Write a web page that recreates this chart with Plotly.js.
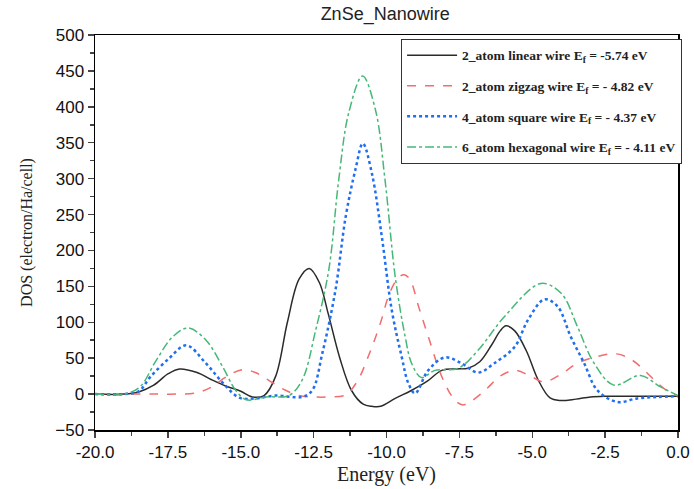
<!DOCTYPE html>
<html>
<head>
<meta charset="utf-8">
<script src="https://cdn.plot.ly/plotly-3.0.1.min.js"></script>
<style>html,body{margin:0;padding:0;background:#fff;}#chart{width:694px;height:489px;}</style>
</head>
<body>
<div id="chart"></div>
<script>
// Energy (eV) and DOS values
const linearX = [-20,-19,-18.5,-18,-17.5,-17.1,-16.5,-16,-15.5,-15,-14.6,-14.2,-13.8,-13.4,-13,-12.65,-12.3,-12,-11.6,-11.2,-10.8,-10.5,-10.2,-9.7,-9.15,-8.6,-8.1,-7.6,-7.2,-6.8,-6.4,-6.1,-5.9,-5.6,-5.2,-4.8,-4.4,-4.05,-3.5,-3,-2.5,-2,-1,0];
const linearY = [0,0,3,12,28,35,30,20,11,4,-4,-2,25,100,160,175,155,112,50,5,-14,-17,-17,-6,5,18,33,35,36,45,68,88,95,88,60,20,-5,-9,-7,-4,-3,-3,-3,-3];

const zigzagX = [-20,-18,-17.2,-16.5,-16,-15.5,-14.95,-14.5,-14,-13.5,-13,-12.5,-12,-11.4,-11,-10.6,-10.2,-9.9,-9.6,-9.4,-9.2,-8.9,-8.55,-8.1,-7.7,-7.4,-7.1,-6.6,-6.1,-5.6,-5.1,-4.6,-4,-3.45,-2.8,-2.1,-1.6,-1.15,-0.7,-0.35,0];
const zigzagY = [0,0,0,2,10,24,34,30,18,6,-2,-4,-4,-1,18,55,100,140,162,166,160,122,78,24,-6,-15,-10,6,25,33,26,17,28,43,52,56,48,33,15,4,-3];

const squareX = [-20,-19,-18.5,-18.1,-17.45,-16.87,-16.2,-15.6,-15.05,-14.5,-13.8,-12.9,-12.55,-12.2,-11.75,-11.4,-11.07,-10.81,-10.5,-10.16,-9.82,-9.48,-9.25,-9.02,-8.57,-8.0,-7.43,-6.86,-6.3,-5.6,-5.15,-4.58,-4.13,-3.68,-3.22,-2.76,-2.08,-1.4,-0.7,0];
const squareY = [0,0,4,24,50,68,43,15,-5,-6,-2,-4,5,57,145,247,312,349,307,219,117,52,15,1,33,51,43,30,43,66,103,132,122,80,43,5,-11,-6,-4,-3];

const hexX = [-20,-19,-18.46,-17.9,-17.33,-16.8,-16.19,-15.62,-15.17,-14.8,-14.14,-13.35,-12.9,-12.43,-11.98,-11.64,-11.3,-10.82,-10.38,-10.05,-9.7,-9.36,-9.14,-8.8,-8.34,-7.54,-6.86,-5.95,-4.7,-4.0,-3.45,-2.88,-2.2,-1.29,-0.6,0];
const hexY = [0,0,10,47,80,92,75,38,5,-8,-4,-2,19,89,173,298,391,443,396,298,163,80,43,23,33,36,61,108,154,140,94,43,12.5,26,10,-2];

const seriesNames = [
  '2_atom linear wire E<sub>f</sub> = -5.74 eV',
  '2_atom zigzag wire E<sub>f</sub> = - 4.82 eV',
  '4_atom square wire E<sub>f</sub> = - 4.37 eV',
  '6_atom hexagonal wire E<sub>f</sub> = - 4.11 eV'
];

const xTicks = [-20,-17.5,-15,-12.5,-10,-7.5,-5,-2.5,0];
const xTickText = ['-20.0','-17.5','-15.0','-12.5','-10.0','-7.5','-5.0','-2.5','0.0'];
const yTicks = [-50,0,50,100,150,200,250,300,350,400,450,500];

const traces = [
  {x: linearX, y: linearY, name: seriesNames[0], legendgroup:'a', line:{color:'#2b2b2b', width:1.5, dash:'solid', shape:'spline', smoothing:1}},
  {x: zigzagX, y: zigzagY, name: seriesNames[1], legendgroup:'b', line:{color:'#f26d6d', width:1.5, dash:'dash', shape:'spline', smoothing:1}},
  {x: squareX, y: squareY, name: seriesNames[2], legendgroup:'c', line:{color:'#1f6ff0', width:2.5, dash:'dot', shape:'spline', smoothing:1}},
  {x: hexX, y: hexY, name: seriesNames[3], legendgroup:'d', line:{color:'#45b878', width:1.5, dash:'dashdot', shape:'spline', smoothing:1}}
].map(t => Object.assign({type:'scatter', mode:'lines'}, t));

const layout = {
  width: 694, height: 489,
  margin: {l:95, r:13, t:35, b:59},
  paper_bgcolor:'#fff', plot_bgcolor:'#fff',
  title: {text:'ZnSe_Nanowire', font:{family:'Liberation Sans, Arial', size:18, color:'#222'}, x:0.555, xanchor:'center', y:0.985, yanchor:'top'},
  xaxis: {
    range:[-20,0], tickvals:xTicks, ticktext:xTickText, ticks:'outside', ticklen:6, tickwidth:1.5,
    showline:true, linecolor:'#000', linewidth:1.5, mirror:true, showgrid:false, zeroline:false,
    tickfont:{family:'Liberation Sans, Arial', size:17, color:'#111'},
    minor:{ticks:'outside', ticklen:4, tickwidth:1.5, dtick:1.25, tick0:-20, showgrid:false},
    title:{text:'Energy (eV)', font:{family:'Liberation Serif, Times New Roman', size:20, color:'#222'}, standoff:6}
  },
  yaxis: {
    range:[-50,500], tickvals:yTicks, ticks:'outside', ticklen:6, tickwidth:1.5,
    showline:true, linecolor:'#000', linewidth:1.5, mirror:true, showgrid:false, zeroline:false,
    tickfont:{family:'Liberation Sans, Arial', size:17, color:'#111'},
    minor:{ticks:'outside', ticklen:4, tickwidth:1.5, dtick:25, tick0:0, showgrid:false},
    title:{text:'DOS (electron/Ha/cell)', font:{family:'Liberation Serif, Times New Roman', size:16, color:'#222'}, standoff:18}
  },
  legend: {
    x:0.525, xanchor:'left', y:0.99, yanchor:'top',
    bgcolor:'#fff', bordercolor:'#333', borderwidth:1,
    font:{family:'Liberation Serif, Times New Roman', size:13.5, color:'#222', weight:'bold'},
    traceorder:'grouped', tracegroupgap:10, itemwidth:50
  },
  showlegend:true
};

Plotly.newPlot('chart', traces, layout, {displayModeBar:false, staticPlot:true});
</script>
</body>
</html>
